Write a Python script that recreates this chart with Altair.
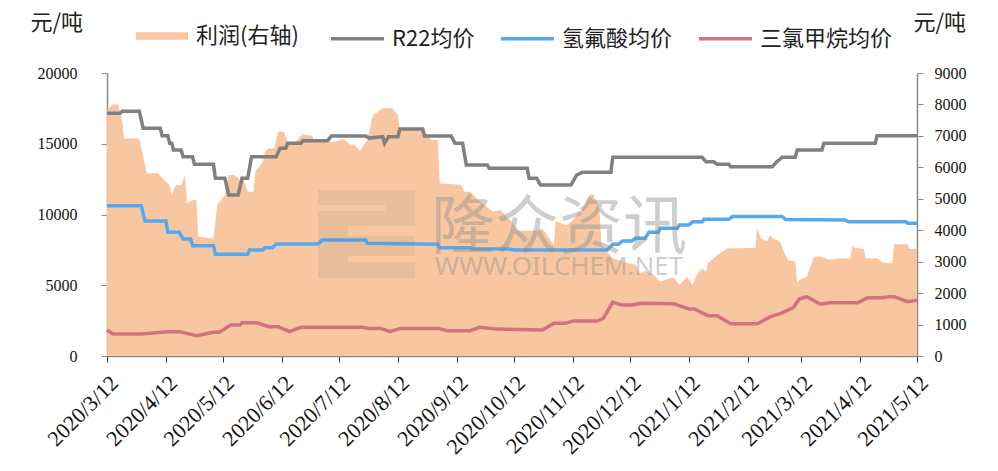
import altair as alt
import pandas as pd

START = pd.Timestamp("2020-03-12")

# legend / series
profit_name = "利润(右轴)"
line_names = ["R22均价", "氢氟酸均价", "三氯甲烷均价"]
profit_color = "#F8C7A1"
line_colors = ["#808080", "#55A9EE", "#D4717F"]

tick_dates = ["2020-03-12", "2020-04-12", "2020-05-12", "2020-06-12", "2020-07-12",
              "2020-08-12", "2020-09-12", "2020-10-12", "2020-11-12", "2020-12-12",
              "2021-01-12", "2021-02-12", "2021-03-12", "2021-04-12", "2021-05-12"]

# day offsets from 2020-03-12 and values (left axis, 元/吨)
r22_days = [0, 7, 8, 17, 19, 28, 29, 32, 33, 34, 35, 39, 40, 45, 46, 56, 57, 62, 64, 69,
            71, 74, 76, 89, 91, 94, 95, 102, 103, 116, 118, 136, 138, 145, 146, 148, 153, 154,
            166, 167, 181, 183, 187, 189, 200, 201, 221, 222, 226, 228, 244, 247, 250, 265,
            266, 313, 315, 319, 321, 327, 328, 350, 352, 355, 362, 363, 376, 377, 404, 405, 426]
r22_vals = [17150, 17150, 17300, 17300, 16100, 16100, 15570, 15570, 15030, 15030, 14560, 14560,
            14090, 14090, 13550, 13550, 12560, 12560, 11380, 11380, 12560, 12560, 14090, 14090,
            14680, 14680, 15030, 15030, 15220, 15220, 15550, 15550, 15400, 15500, 15030, 15500,
            15500, 16040, 16040, 15550, 15550, 15030, 15030, 13500, 13500, 13260, 13260, 12560,
            12560, 12080, 12080, 12790, 12980, 12980, 14040, 14040, 13730, 13730, 13550, 13550,
            13380, 13380, 13700, 14040, 14040, 14560, 14560, 15030, 15030, 15570, 15570]

hf_days = [0, 18, 20, 31, 32, 38, 40, 44, 45, 56, 57, 74, 75, 82, 83, 87, 89, 111, 113, 136,
           137, 174, 175, 191, 192, 212, 214, 263, 266, 269, 271, 276, 278, 283, 285, 290, 291,
           300, 301, 306, 308, 313, 314, 327, 329, 355, 357, 388, 390, 420, 421, 426]
hf_vals = [10620, 10620, 9540, 9540, 8740, 8740, 8270, 8270, 7800, 7800, 7190, 7190, 7490, 7490,
           7650, 7650, 7910, 7910, 8200, 8200, 7960, 7900, 7650, 7650, 7560, 7560, 7490, 7490,
           7890, 7890, 8130, 8130, 8320, 8320, 8740, 8740, 9020, 9020, 9260, 9260, 9490, 9490,
           9660, 9660, 9850, 9850, 9640, 9620, 9490, 9490, 9380, 9380]

tcm_days = [0, 3, 18, 32, 38, 47, 56, 59, 65, 70, 71, 79, 85, 90, 96, 102, 134, 138, 144, 149,
            154, 174, 179, 191, 196, 205, 229, 235, 241, 245, 258, 261, 266, 271, 276, 281, 298,
            306, 309, 316, 321, 328, 342, 349, 354, 361, 364, 368, 375, 376, 380, 395, 400, 408,
            411, 414, 421, 426]
tcm_vals = [1840, 1555, 1555, 1720, 1720, 1440, 1670, 1670, 2190, 2190, 2350, 2350, 2070, 2070,
            1720, 2030, 2030, 1950, 1950, 1720, 1950, 1950, 1790, 1790, 2030, 1900, 1840, 2310,
            2310, 2470, 2470, 2660, 3790, 3600, 3600, 3720, 3700, 3320, 3320, 2850, 2850, 2280,
            2280, 2780, 3000, 3420, 4030, 4190, 3680, 3680, 3770, 3770, 4120, 4120, 4190, 4190,
            3840, 3940]

# profit, right axis
profit_days = [0, 3, 6, 8, 9, 17, 19, 21, 27, 29, 33, 34, 36, 39, 41, 42, 45, 47, 48, 56, 57, 58,
               62, 64, 67, 70, 71, 74, 77, 78, 82, 83, 85, 88, 90, 93, 95, 98, 103, 108, 109, 120,
               124, 128, 130, 133, 135, 137, 139, 140, 145, 150, 153, 154, 166, 169, 171, 174,
               175, 186, 188, 191, 196, 203, 207, 210, 213, 216, 227, 229, 235, 236, 241, 242,
               245, 251, 253, 257, 259, 260, 263, 266, 274, 278, 280, 283, 287, 291, 295, 298,
               301, 305, 308, 310, 313, 315, 316, 321, 326, 341, 342, 344, 347, 349, 350, 354,
               355, 358, 362, 363, 364, 368, 372, 376, 379, 383, 384, 391, 392, 393, 398, 399,
               405, 408, 413, 414, 421, 422, 426]
profit_vals = [7820, 8000, 8000, 7450, 6920, 6920, 6340, 5810, 5810, 5650, 5420, 5120, 5420, 5440,
               5760, 4860, 4960, 4960, 3790, 3740, 4270, 4800, 5120, 5760, 5760, 5600, 5760, 5220,
               5220, 5860, 6180, 6500, 6600, 6600, 7130, 7130, 6820, 6750, 7050, 7000, 6820, 6820,
               6900, 6730, 6730, 6520, 6700, 6870, 7450, 7660, 7880, 7880, 7660, 7190, 7190, 6980,
               6870, 6870, 5490, 5450, 5220, 5220, 4910, 4590, 4640, 4430, 4270, 3980, 3980, 4050,
               3530, 4290, 4170, 4170, 4320, 4750, 5070, 5000, 4700, 3530, 3320, 3110, 2950, 2900,
               2630, 2700, 2600, 2360, 2450, 2500, 2260, 2520, 2260, 2560, 2790, 2680, 2950, 3210,
               3420, 3440, 4060, 3740, 3650, 3850, 3750, 3630, 3480, 3050, 3000, 2310, 2410, 2520,
               3160, 3160, 3080, 3080, 3100, 3100, 3530, 3450, 3400, 3110, 3110, 2970, 2950, 3550,
               3550, 3400, 3400]


def to_dates(days):
    return [(START + pd.Timedelta(days=d)).strftime("%Y-%m-%dT00:00:00") for d in days]


profit_df = pd.DataFrame({"date": to_dates(profit_days), "value": profit_vals,
                          "series": profit_name})
lines_df = pd.concat([
    pd.DataFrame({"date": to_dates(r22_days), "value": r22_vals, "series": line_names[0], "o": 0}),
    pd.DataFrame({"date": to_dates(hf_days), "value": hf_vals, "series": line_names[1], "o": 1}),
    pd.DataFrame({"date": to_dates(tcm_days), "value": tcm_vals, "series": line_names[2], "o": 2}),
])


def dt(s):
    t = pd.Timestamp(s)
    return alt.DateTime(year=t.year, month=t.month, date=t.day)


SERIF = "Liberation Serif"
CJK = "Noto Sans CJK SC"

x_scale = alt.Scale(domain=[dt(tick_dates[0]), dt(tick_dates[-1])])
x_axis = alt.Axis(values=[dt(s) for s in tick_dates], format="%Y/%-m/%-d", labelAngle=-45,
                  labelFont=SERIF, labelFontSize=22, labelColor="#111",
                  labelOverlap=False, labelFlush=False, labelPadding=10, tickSize=6,
                  tickColor="#333", domainColor="#8a8a8a", domainWidth=1.5, grid=False,
                  title=None)

area = alt.Chart(profit_df).mark_area(opacity=1, interpolate="linear").encode(
    x=alt.X("date:T", scale=x_scale, axis=x_axis),
    y=alt.Y("value:Q", scale=alt.Scale(domain=[0, 9000], nice=False),
            axis=alt.Axis(orient="right", values=list(range(0, 9001, 1000)), format="d",
                          grid=False, labelFont=SERIF, labelFontSize=16, labelColor="#111",
                          labelPadding=11, tickSize=6, tickColor="#8a8a8a",
                          domainColor="#8a8a8a", domainWidth=1.5,
                          title="元/吨", titleAngle=0, titleFont=CJK, titleFontSize=22,
                          titleFontWeight="normal", titleColor="#222", titleAlign="left",
                          titleBaseline="middle", titleX=-4, titleY=-51)),
    fill=alt.Fill("series:N", scale=alt.Scale(domain=[profit_name], range=[profit_color]),
                  legend=alt.Legend(title=None, orient="none", legendX=29, legendY=-63,
                                    symbolType="M-1,-0.14H1V0.14H-1Z", symbolSize=2704,
                                    symbolStrokeWidth=0, labelFont=CJK, labelFontSize=22,
                                    labelColor="#222", labelOffset=8, padding=0,
                                    labelLimit=400)),
)

lines = alt.Chart(lines_df).mark_line(strokeWidth=3.5, interpolate="linear").encode(
    x=alt.X("date:T", scale=x_scale, axis=x_axis),
    y=alt.Y("value:Q", scale=alt.Scale(domain=[0, 20000], nice=False),
            axis=alt.Axis(orient="left", values=list(range(0, 20001, 5000)), format="d",
                          grid=False, labelFont=SERIF, labelFontSize=16, labelColor="#111",
                          labelPadding=24, tickSize=6, tickColor="#8a8a8a",
                          domainColor="#8a8a8a", domainWidth=1.5,
                          title="元/吨", titleAngle=0, titleFont=CJK, titleFontSize=22,
                          titleFontWeight="normal", titleColor="#222", titleAlign="left",
                          titleBaseline="middle", titleX=-77, titleY=-51)),
    color=alt.Color("series:N", scale=alt.Scale(domain=line_names, range=line_colors),
                    legend=alt.Legend(title=None, orient="none", legendX=222, legendY=-63,
                                      direction="horizontal", symbolType="stroke",
                                      symbolSize=2809, symbolStrokeWidth=3.5,
                                      labelFont=CJK, labelFontSize=22, labelColor="#222",
                                      labelOffset=6, columnPadding=19, padding=0,
                                      labelLimit=400)),
    detail="o:N",
)

# watermark (decoration)
logo_x = [211, 278, 211, 211, 241, 241]
logo_x2 = [308, 308, 308, 241, 308, 308]
logo_y = [117, 132, 138, 153, 163, 189]
logo_y2 = [132, 138, 153, 205, 183, 205]
logo_df = pd.DataFrame({"x": logo_x, "x2": logo_x2, "y": logo_y, "y2": logo_y2})
logo = alt.Chart(logo_df).mark_rect(color="#6a6a6a", opacity=0.11).encode(
    x=alt.X("x:Q", scale=None), x2="x2:Q", y=alt.Y("y:Q", scale=None), y2="y2:Q")

wm1 = alt.Chart(pd.DataFrame({"t": ["隆众资讯"]})).mark_text(
    font=CJK, fontSize=64, color="#8c8c8c", opacity=0.42, align="center",
    baseline="middle").encode(text="t:N", x=alt.value(452), y=alt.value(156))
wm2 = alt.Chart(pd.DataFrame({"t": ["WWW.OILCHEM.NET"]})).mark_text(
    font="Noto Sans", fontSize=26, color="#8c8c8c", opacity=0.42, align="center",
    baseline="middle").encode(text="t:N", x=alt.value(452), y=alt.value(194))

chart = alt.layer(area, lines, logo, wm1, wm2).resolve_scale(y="independent").properties(
    width=810, height=283,
    autosize=alt.AutoSizeParams(type="none"),
    padding={"left": 99, "top": 65, "right": 73, "bottom": 107},
).configure_view(stroke=None)

chart.save("out.html", embed_options={"renderer": "svg", "actions": False})
